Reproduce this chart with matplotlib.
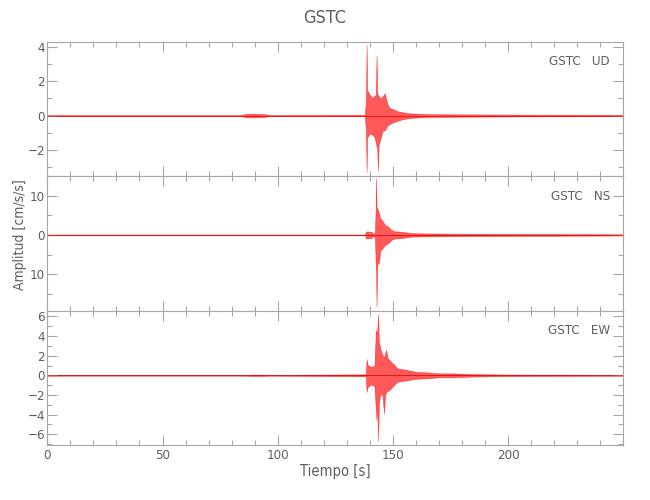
import matplotlib
matplotlib.use('Agg')
import matplotlib.pyplot as plt
from matplotlib.ticker import MultipleLocator

# --- envelope of each trace (time [s], upper, lower) ---
t_ud = [0, 84, 86, 90, 94, 97, 137.8, 138.3, 138.6, 138.8, 139.2, 140.0, 141.0, 142.0,
        142.6, 142.9, 143.2, 143.5, 143.8, 144.5, 145.5, 146.5, 147.5, 148.5, 150.0,
        152.0, 154.0, 157.0, 160.0, 165.0, 175.0, 190.0, 210.0, 250.0]
up_ud = [0.03, 0.03, 0.09, 0.1, 0.08, 0.03, 0.04, 0.9, 4.13, 1.45, 1.4, 1.2, 1.0, 1.15,
         1.2, 3.5, 1.3, 1.2, 1.15, 1.0, 1.1, 1.3, 0.7, 0.45, 0.37,
         0.25, 0.2, 0.13, 0.11, 0.08, 0.07, 0.06, 0.05, 0.04]
lo_ud = [-0.03, -0.03, -0.09, -0.1, -0.08, -0.03, -0.04, -0.8, -3.29, -1.3, -1.2, -1.05, -1.1, -1.25,
         -1.6, -1.8, -1.9, -3.23, -1.7, -1.4, -0.9, -0.85, -0.6, -0.5, -0.4,
         -0.31, -0.22, -0.15, -0.12, -0.08, -0.07, -0.06, -0.05, -0.04]

t_ns = [0, 137.9, 138.3, 139.0, 140.0, 140.7, 141.2, 142.2, 142.5, 142.7, 142.9, 143.2,
        144.0, 144.5, 145.5, 146.5, 148.0, 149.5, 151.0, 153.0, 155.0, 158.0, 162.0,
        170.0, 180.0, 200.0, 250.0]
up_ns = [0.1, 0.1, 0.85, 0.9, 0.8, 0.85, 0.3, 0.6, 6.5, 14.4, 7.0, 6.8,
         5.5, 4.2, 3.6, 2.6, 2.1, 1.2, 0.9, 0.85, 0.7, 0.45, 0.4,
         0.35, 0.3, 0.25, 0.15]
lo_ns = [-0.1, -0.1, -0.85, -0.9, -0.8, -0.85, -0.3, -0.6, -7.0, -9.5, -18.2, -7.6,
         -7.0, -4.0, -3.4, -2.6, -2.1, -1.2, -0.9, -0.85, -0.7, -0.45, -0.4,
         -0.35, -0.3, -0.25, -0.15]

t_ew = [0, 86, 89, 93, 96, 138.2, 138.6, 139.0, 140.0, 141.0, 142.0, 142.6, 142.9,
        143.3, 143.6, 143.9, 144.3, 145.0, 145.6, 146.1, 146.6, 147.1, 147.6, 148.5,
        150.0, 152.0, 155.0, 160.0, 165.0, 170.0, 176.0, 185.0, 200.0, 250.0]
up_ew = [0.04, 0.04, 0.08, 0.07, 0.04, 0.1, 1.63, 1.1, 0.9, 0.88, 0.95, 4.6, 4.2,
         4.9, 6.26, 3.5, 2.9, 2.4, 2.0, 1.8, 2.2, 2.58, 1.8, 1.56,
         1.2, 0.7, 0.6, 0.35, 0.3, 0.2, 0.2, 0.12, 0.08, 0.05]
lo_ew = [-0.04, -0.04, -0.08, -0.07, -0.04, -0.1, -1.67, -1.2, -1.0, -0.95, -1.1, -3.5, -4.6,
         -3.2, -6.67, -3.0, -2.2, -1.8, -2.2, -3.88, -2.0, -1.7, -1.6, -1.5,
         -1.1, -0.65, -0.55, -0.35, -0.3, -0.2, -0.2, -0.12, -0.08, -0.05]

components = ['UD', 'NS', 'EW']
station = 'GSTC'
ylims = [(-3.53, 4.3), (-19.3, 15.0), (-7.1, 6.6)]
yticks = [[-2, 0, 2, 4], [-10, 0, 10], [-6, -4, -2, 0, 2, 4, 6]]
# the minus of -10 in the middle panel is hidden behind the axis title in the record
ytick_labels = [['−2', '0', '2', '4'], ['10', '0', '10'],
                ['−6', '−4', '−2', '0', '2', '4', '6']]
yminor = [1, 5, 1]
traces = [(t_ud, up_ud, lo_ud), (t_ns, up_ns, lo_ns), (t_ew, up_ew, lo_ew)]

plt.rcParams['font.family'] = ['DejaVu Sans']
plt.rcParams['font.stretch'] = 'condensed'
GREY = '#5e5e5e'
SPINE = '#a6a6a6'

fig = plt.figure(figsize=(6.5, 5), dpi=100)
left, right = 47.3 / 650, 623.3 / 650
top, bottom = 1 - 41.7 / 500, 1 - 445 / 500
h = (top - bottom) / 3

axes = []
for i in range(3):
    ax = fig.add_axes([left, top - (i + 1) * h, right - left, h])
    axes.append(ax)
    t, up, lo = traces[i]
    ax.axhline(0, color='#7a1515' if i > 0 else 'red', lw=0.7, alpha=0.8, zorder=1)
    ax.fill_between(t, lo, up, color='red', alpha=0.65, lw=0.4, edgecolor='red', zorder=2)
    ax.set_xlim(0, 250)
    ax.set_ylim(*ylims[i])
    ax.set_yticks(yticks[i])
    ax.set_yticklabels(ytick_labels[i])
    ax.yaxis.set_minor_locator(MultipleLocator(yminor[i]))
    ax.set_xticks([0, 50, 100, 150, 200])
    ax.xaxis.set_minor_locator(MultipleLocator(10))
    ax.tick_params(which='both', direction='in', top=True, right=True,
                   colors=SPINE, labelcolor=GREY, labelsize=9.5, width=0.8)
    ax.tick_params(which='major', length=7.2)
    ax.tick_params(which='minor', length=3.6)
    ax.tick_params(axis='y', pad=1.5)
    ax.tick_params(axis='x', pad=3)
    for s in ax.spines.values():
        s.set_color(SPINE)
        s.set_linewidth(0.8)
    if i < 2:
        ax.tick_params(axis='x', labelbottom=False)
    ax.text(0.977, 0.85, f'{station}   {components[i]}', transform=ax.transAxes,
            ha='right', va='center', fontsize=9.5, color=GREY)

axes[2].set_xlabel('Tiempo [s]', fontsize=10.5, color=GREY, labelpad=1)
fig.text(20 / 650, 1 - 235 / 500, 'Amplitud [cm/s/s]', rotation=90,
         ha='center', va='center', fontsize=10, color=GREY)
fig.text(0.5, 1 - 18 / 500, station, ha='center', va='center', fontsize=13, color=GREY)

plt.savefig('out.png', dpi=100)
plt.close()
